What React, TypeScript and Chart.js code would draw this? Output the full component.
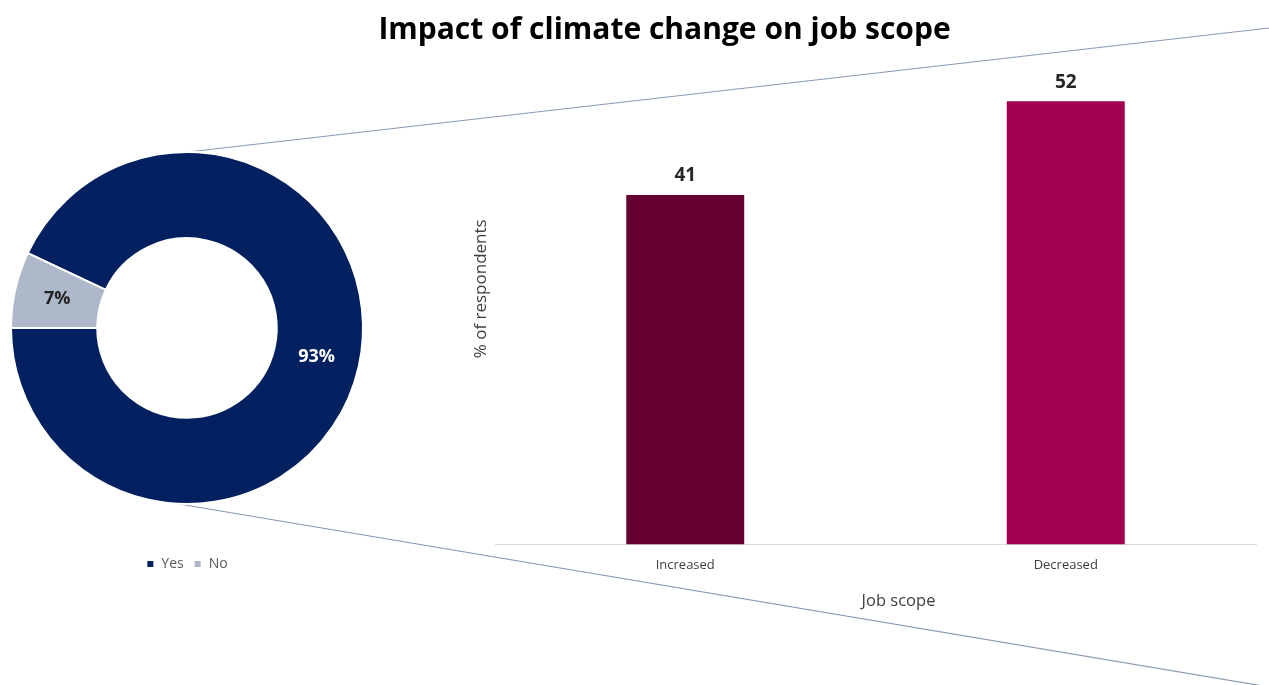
import React, { useEffect, useRef } from "react";
import { Chart, registerables } from "chart.js";

Chart.register(...registerables);

const TITLE = "Impact of climate change on job scope";

const donutLabels = ["Yes", "No"];
const donutValues = [93, 7];
const donutColors = ["#002060", "#ADB9CA"];

const barCategories = ["Increased", "Decreased"];
const barValues = [41, 52];
const barColors = ["#660033", "#A50050"];

const yAxisTitle = "% of respondents";
const xAxisTitle = "Job scope";

const FONT = "'Open Sans', 'DejaVu Sans', sans-serif";
const W = 1269;
const H = 685;

export default function App() {
  const donutRef = useRef<HTMLCanvasElement | null>(null);
  const barRef = useRef<HTMLCanvasElement | null>(null);

  useEffect(() => {
    const arcLabels = {
      id: "arcLabels",
      afterDatasetsDraw(chart: any) {
        const ctx = chart.ctx;
        const meta = chart.getDatasetMeta(0);
        ctx.save();
        ctx.font = `bold 18px ${FONT}`;
        ctx.textAlign = "center";
        ctx.textBaseline = "middle";
        meta.data.forEach((arc: any, i: number) => {
          const p = arc.tooltipPosition();
          ctx.fillStyle = i === 0 ? "#FFFFFF" : "#222222";
          ctx.fillText(donutValues[i] + "%", p.x, p.y);
        });
        ctx.restore();
      },
    };
    const connectors = {
      id: "connectors",
      beforeDatasetsDraw(chart: any) {
        const ctx = chart.ctx;
        const arc: any = chart.getDatasetMeta(0).data[0];
        if (!arc) return;
        const cx = arc.x;
        const cy = arc.y;
        const r = arc.outerRadius;
        ctx.save();
        ctx.strokeStyle = "#8A9AB3";
        ctx.lineWidth = 1.2;
        ctx.beginPath();
        ctx.moveTo(cx + 1, cy - r);
        ctx.lineTo(chart.width, 28);
        ctx.moveTo(cx - 14, cy + r - 1);
        ctx.lineTo(chart.width, 687);
        ctx.stroke();
        ctx.restore();
      },
    };

    const donut = new Chart(donutRef.current as HTMLCanvasElement, {
      type: "doughnut",
      data: {
        labels: donutLabels,
        datasets: [
          {
            data: donutValues,
            backgroundColor: donutColors,
            borderColor: "#FFFFFF",
            borderWidth: 2,
          },
        ],
      },
      options: {
        responsive: false,
        animation: false,
        devicePixelRatio: 1,
        rotation: -64.8,
        cutout: "51%",
        layout: { padding: { left: 10, right: 905, top: 109, bottom: 104 } },
        plugins: {
          title: { display: false },
          tooltip: { enabled: false },
          legend: {
            display: true,
            position: "bottom",
            labels: {
              boxWidth: 8,
              boxHeight: 8,
              padding: 10,
              color: "#595959",
              font: { family: FONT, size: 14 },
            },
          },
        },
      },
      plugins: [arcLabels, connectors],
    } as any);

    const barLabels = {
      id: "barLabels",
      afterDatasetsDraw(chart: any) {
        const ctx = chart.ctx;
        const meta = chart.getDatasetMeta(0);
        ctx.save();
        ctx.font = `bold 19px ${FONT}`;
        ctx.textAlign = "center";
        ctx.textBaseline = "middle";
        ctx.fillStyle = "#262626";
        meta.data.forEach((bar: any, i: number) => {
          ctx.fillText(String(barValues[i]), bar.x, bar.y - 19);
        });
        ctx.restore();
      },
      afterDraw(chart: any) {
        // x-axis title, shifted right of the plot centre as in the reference
        const ctx = chart.ctx;
        const xs = chart.scales.x;
        ctx.save();
        ctx.font = `16.5px ${FONT}`;
        ctx.textAlign = "center";
        ctx.textBaseline = "middle";
        ctx.fillStyle = "#404040";
        ctx.fillText(xAxisTitle, (xs.left + xs.right) / 2 + 23, xs.bottom - 14);
        ctx.restore();
      },
    };

    const bar = new Chart(barRef.current as HTMLCanvasElement, {
      type: "bar",
      data: {
        labels: barCategories,
        datasets: [
          {
            data: barValues,
            backgroundColor: barColors,
            barPercentage: 0.31,
            categoryPercentage: 1,
          },
        ],
      },
      options: {
        responsive: false,
        animation: false,
        devicePixelRatio: 1,
        layout: { padding: { left: 466.6, right: 13, top: 33, bottom: 70 } },
        plugins: {
          legend: { display: false },
          tooltip: { enabled: false },
        },
        scales: {
          x: {
            grid: { display: true, drawOnChartArea: false, drawTicks: false },
            border: { display: true, color: "#D9D9D9", width: 1 },
            ticks: {
              color: "#404040",
              padding: 13,
              font: { family: FONT, size: 13 },
            },
            title: {
              display: true,
              text: xAxisTitle,
              color: "rgba(0,0,0,0)",
              font: { family: FONT, size: 16.5 },
              padding: { top: 5, bottom: 4 },
            },
          },
          y: {
            min: 0,
            max: 60,
            grid: { display: false, drawTicks: false },
            border: { display: false },
            ticks: { display: false },
            title: {
              display: true,
              text: yAxisTitle,
              color: "#404040",
              font: { family: FONT, size: 17 },
              padding: { top: 4, bottom: 4 },
            },
          },
        },
      },
      plugins: [barLabels],
    } as any);

    return () => {
      donut.destroy();
      bar.destroy();
    };
  }, []);

  return (
    <div
      style={{
        position: "absolute",
        left: 0,
        top: 0,
        width: W,
        height: H,
        background: "#FFFFFF",
        overflow: "hidden",
      }}
    >
      <canvas
        ref={donutRef}
        width={W}
        height={H}
        style={{ position: "absolute", left: 0, top: 0, width: W, height: H }}
      />
      <canvas
        ref={barRef}
        width={W}
        height={H}
        style={{ position: "absolute", left: 0, top: 0, width: W, height: H }}
      />
      <div
        style={{
          position: "absolute",
          left: 60,
          top: 13,
          width: W - 60,
          textAlign: "center",
          fontFamily: FONT,
          fontWeight: 700,
          fontSize: 30,
          lineHeight: 1,
          color: "#000000",
          whiteSpace: "nowrap",
        }}
      >
        {TITLE}
      </div>
    </div>
  );
}
